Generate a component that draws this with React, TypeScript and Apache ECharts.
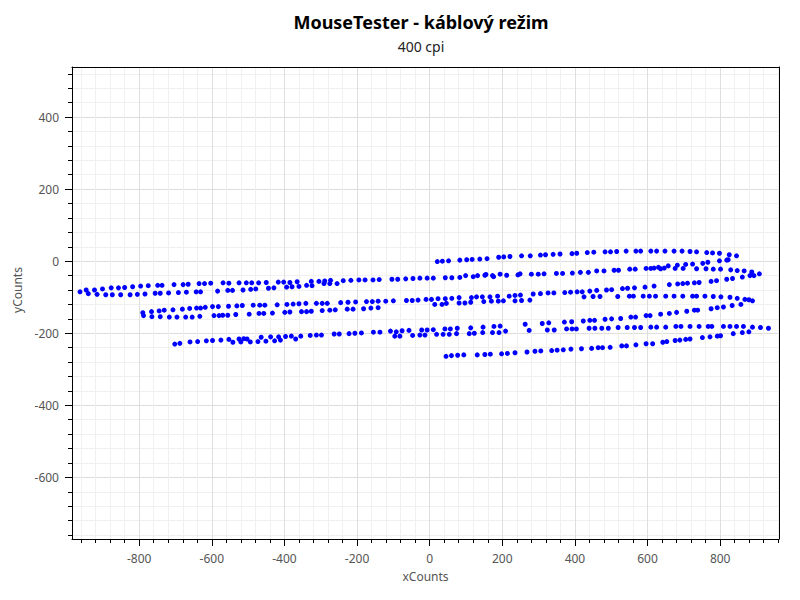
import React, { useEffect, useRef } from "react";
import * as echarts from "echarts";

const chartTitle = "MouseTester - káblový režim";
const chartSubtitle = "400 cpi";
const xName = "xCounts";
const yName = "yCounts";
const xRange: [number, number] = [-985, 962];
const yRange: [number, number] = [-771, 539];
const xMajorTicks = [-800, -600, -400, -200, 0, 200, 400, 600, 800];
const yMajorTicks = [-600, -400, -200, 0, 200, 400];
const minorStep = 40;

// Band A: top-right stroke
const bandA: [number, number][] = [
  [21, -1], [35, 0], [52, 1], [83, 3], [102, 4], [117, 5], [138, 6], [158, 7], [190, 11], [204, 12],
  [221, 13], [253, 15], [277, 15], [305, 17], [319, 18], [340, 19], [359, 20], [392, 21], [405, 22], [434, 24],
  [452, 25], [483, 26], [498, 26], [515, 27], [541, 28], [568, 28], [581, 28], [609, 28], [625, 28], [648, 28],
  [673, 28], [695, 28], [717, 27], [735, 26], [763, 24], [779, 23], [798, 22], [825, 18], [845, 15],
];

// Band B: long stroke from far left to far right
const bandB: [number, number][] = [
  [-946, -80], [-923, -80], [-901, -77], [-877, -74], [-857, -74], [-840, -73], [-818, -71], [-796, -69], [-775, -68], [-749, -67],
  [-737, -67], [-704, -65], [-679, -65], [-665, -64], [-635, -62], [-620, -62], [-603, -61], [-569, -60], [-553, -61], [-525, -60],
  [-963, -85], [-940, -90], [-916, -92], [-892, -93], [-874, -93], [-851, -93], [-825, -93], [-805, -92], [-784, -91], [-756, -89],
  [-742, -89], [-719, -88], [-692, -87], [-670, -86], [-643, -85], [-631, -85], [-584, -83], [-556, -81], [-543, -81],
  [-505, -60], [-490, -60], [-471, -60], [-450, -59], [-417, -58], [-402, -58], [-385, -59], [-365, -57], [-326, -56], [-305, -56],
  [-289, -55], [-273, -53], [-238, -54], [-217, -53], [-195, -52], [-178, -52], [-156, -52], [-139, -51], [-104, -50], [-88, -50],
  [-66, -49], [-46, -48],
  [-514, -80], [-493, -78], [-479, -77], [-444, -75], [-429, -74], [-394, -72], [-379, -71], [-360, -70], [-339, -67], [-324, -68],
  [-291, -62], [-275, -62], [-255, -62],
  [-27, -47], [-7, -47], [10, -47], [43, -46], [61, -46], [83, -45], [99, -40], [120, -43], [132, -40], [152, -39],
  [155, -37], [173, -40], [176, -43], [194, -36], [212, -39], [243, -38], [249, -35], [280, -36], [299, -36], [315, -35],
  [349, -34], [366, -34], [393, -33], [415, -31], [437, -31], [460, -27],
  [480, -27], [508, -25], [520, -25], [551, -22], [566, -22], [596, -20], [609, -20], [618, -19], [630, -17], [636, -21],
  [646, -19], [676, -20], [698, -20], [735, -21], [761, -21], [781, -22], [801, -22], [829, -24], [847, -26], [866, -27],
  [887, -30], [882, -40], [893, -40], [908, -35],
  [657, -13], [682, -11], [705, -9], [724, -8], [752, -6], [766, -3], [798, 1], [818, 3], [822, 4],
];

// Band C: middle stroke
const bandC: [number, number][] = [
  [-790, -143], [-766, -140], [-745, -138], [-731, -136], [-707, -135], [-681, -133], [-661, -131], [-642, -130], [-631, -130], [-618, -128],
  [-598, -126], [-582, -126], [-554, -125], [-531, -124],
  [-788, -151], [-765, -154], [-742, -154], [-717, -155], [-696, -155], [-672, -155], [-654, -155], [-633, -153], [-594, -151], [-580, -151],
  [-570, -150], [-556, -150], [-534, -148],
  [-516, -123], [-486, -122], [-468, -122], [-454, -122], [-420, -121], [-393, -120], [-376, -119], [-360, -118], [-341, -117], [-312, -117],
  [-296, -117], [-282, -117], [-245, -115], [-225, -114], [-204, -113], [-174, -112], [-158, -112], [-142, -111], [-121, -111], [-100, -110],
  [-64, -109], [-48, -109], [-32, -108],
  [-497, -147], [-470, -145], [-457, -145], [-433, -144], [-399, -142], [-385, -141], [-353, -140], [-339, -140], [-326, -139], [-296, -137],
  [-275, -136], [-260, -135], [-227, -133], [-211, -133], [-182, -132], [-162, -130], [-142, -129],
  [-10, -106], [5, -106], [23, -104], [43, -104], [61, -103], [81, -101], [115, -101], [129, -99], [145, -99], [166, -99],
  [187, -97], [219, -97], [235, -95], [250, -94], [285, -91], [305, -90], [326, -88], [342, -88], [372, -87], [388, -86],
  [406, -85], [420, -85], [441, -83], [460, -81],
  [14, -120], [34, -120], [46, -117], [81, -116], [97, -116], [113, -114], [149, -112], [170, -111], [189, -111], [203, -110],
  [235, -110], [253, -109], [276, -108], [425, -99], [450, -98],
  [487, -80], [501, -79], [531, -76], [545, -75], [564, -74], [593, -72], [618, -69], [660, -65], [683, -63], [697, -62],
  [710, -61], [729, -60], [742, -59], [775, -56], [790, -54], [818, -50], [834, -48], [861, -44],
  [469, -98], [518, -98], [550, -97], [561, -97], [588, -97], [605, -97], [622, -97], [650, -97], [673, -97], [697, -97],
  [724, -97], [735, -97], [758, -97], [781, -98], [802, -99], [827, -100], [847, -103], [868, -106], [879, -107], [889, -110],
];

// Band D: lower stroke
const bandD: [number, number][] = [
  [-702, -230], [-688, -228], [-660, -224], [-639, -223], [-615, -221], [-598, -220], [-575, -219], [-553, -217], [-542, -225], [-525, -216],
  [-520, -224],
  [-512, -215], [-503, -216], [-494, -224], [-473, -223], [-464, -211], [-451, -222], [-438, -210], [-427, -221], [-416, -210], [-411, -219],
  [-397, -209], [-381, -208], [-369, -216], [-355, -208], [-329, -206], [-312, -205], [-298, -205], [-263, -202], [-249, -202], [-222, -201],
  [-206, -200], [-188, -199], [-155, -197], [-137, -197], [-108, -194], [-96, -208], [-92, -196], [-82, -208], [-76, -193], [-57, -192],
  [-47, -206],
  [-22, -191], [-7, -191], [10, -190], [42, -188], [57, -188], [76, -186], [113, -185], [147, -183], [177, -181], [194, -180],
  [263, -175], [310, -173], [328, -171], [371, -169], [391, -168], [423, -166], [441, -164], [454, -164],
  [-27, -205], [-13, -205], [19, -203], [37, -203], [54, -203], [74, -201], [109, -201], [123, -200], [146, -198], [173, -198],
  [191, -198], [209, -194], [274, -192], [324, -191], [343, -191], [377, -188], [392, -188], [404, -188], [439, -186], [455, -186],
  [483, -161], [501, -160], [526, -159], [554, -155], [567, -155], [596, -151], [607, -151], [636, -147], [660, -145], [680, -142],
  [708, -139], [729, -136], [738, -136], [775, -132], [792, -129], [809, -127], [833, -123], [857, -120],
  [474, -186], [492, -186], [519, -184], [544, -184], [564, -184], [581, -184], [609, -183], [625, -183], [650, -183], [678, -181],
  [692, -181], [717, -181], [742, -181], [767, -181], [777, -181], [809, -181], [827, -181], [845, -181], [864, -181], [889, -183],
  [911, -184], [933, -186],
];

// Band E: bottom-right stroke
const bandE: [number, number][] = [
  [45, -264], [60, -262], [77, -261], [94, -260], [131, -260], [152, -259], [167, -258], [198, -257], [214, -256], [235, -254],
  [268, -252], [290, -250], [306, -249], [336, -248], [351, -247], [368, -246], [389, -244], [418, -243], [446, -242], [464, -240],
  [476, -240], [497, -239], [529, -235], [542, -235], [568, -232], [596, -229], [614, -229], [642, -225], [653, -223], [676, -220],
  [689, -219], [705, -217], [717, -216], [751, -212], [772, -210], [792, -208], [801, -207], [836, -201], [861, -198], [879, -196],
];

const bands = [bandA, bandB, bandC, bandD, bandE];

function stepTicks(range: [number, number], step: number): number[] {
  const out: number[] = [];
  for (let v = Math.ceil(range[0] / step) * step; v <= range[1]; v += step) out.push(v);
  return out;
}

const FONT = "Noto Sans";
const MINOR_GRID = "#f0f0f0";
const MAJOR_GRID = "#dedede";

export default function App() {
  const ref = useRef<HTMLDivElement>(null);
  useEffect(() => {
    if (!ref.current) return;
    const chart = echarts.init(ref.current, undefined, { renderer: "svg" });
    const xMinor = stepTicks(xRange, minorStep);
    const yMinor = stepTicks(yRange, minorStep);
    const xCycle = xMinor.map((v) => (v % 200 === 0 ? MAJOR_GRID : MINOR_GRID));
    const yCycle = yMinor.map((v) => (v % 200 === 0 ? MAJOR_GRID : MINOR_GRID));
    const labelStyle = { fontFamily: FONT, fontSize: 12, color: "#555" };
    const frameAxis = (position: string, range: [number, number]) => ({
      type: "value",
      min: range[0],
      max: range[1],
      position,
      axisLine: { show: true, onZero: false, lineStyle: { color: "#000", width: 1 } },
      axisTick: { show: false },
      axisLabel: { show: false },
      splitLine: { show: false },
    });
    chart.setOption({
      animation: false,
      backgroundColor: "#ffffff",
      title: {
        text: chartTitle,
        subtext: chartSubtitle,
        left: 421,
        textAlign: "center",
        top: 0,
        padding: [13, 0, 0, 0],
        itemGap: 8,
        textStyle: { fontFamily: FONT, fontSize: 18, fontWeight: "bold", color: "#000" },
        subtextStyle: { fontFamily: FONT, fontSize: 14, color: "#222" },
      },
      grid: {
        left: 72,
        top: 67,
        width: 707,
        height: 472,
        show: false,
        outerBoundsMode: "none",
      },
      xAxis: [
        {
          type: "value",
          min: xRange[0],
          max: xRange[1],
          position: "bottom",
          name: xName,
          nameLocation: "middle",
          nameGap: 31,
          nameTextStyle: labelStyle,
          axisLine: { show: true, onZero: false, lineStyle: { color: "#000", width: 1 } },
          axisTick: { show: true, customValues: xMinor, length: 4, lineStyle: { color: "#000" } },
          axisLabel: { show: true, customValues: xMajorTicks, margin: 13, ...labelStyle },
          splitLine: { show: true, lineStyle: { color: xCycle, width: 1 } },
        },
        {
          type: "value",
          min: xRange[0],
          max: xRange[1],
          position: "bottom",
          axisLine: { show: false, onZero: false },
          axisTick: { show: true, customValues: xMajorTicks, length: 7, lineStyle: { color: "#000" } },
          axisLabel: { show: false },
          splitLine: { show: false },
        },
        frameAxis("top", xRange),
      ],
      yAxis: [
        {
          type: "value",
          min: yRange[0],
          max: yRange[1],
          position: "left",
          name: yName,
          nameLocation: "middle",
          nameGap: 41,
          nameTextStyle: { ...labelStyle, padding: [0, 0, 0, 26] },
          axisLine: { show: true, onZero: false, lineStyle: { color: "#000", width: 1 } },
          axisTick: { show: true, customValues: yMinor, length: 4, lineStyle: { color: "#000" } },
          axisLabel: { show: true, customValues: yMajorTicks, margin: 13, ...labelStyle },
          splitLine: { show: true, lineStyle: { color: yCycle, width: 1 } },
        },
        {
          type: "value",
          min: yRange[0],
          max: yRange[1],
          position: "left",
          axisLine: { show: false, onZero: false },
          axisTick: { show: true, customValues: yMajorTicks, length: 7, lineStyle: { color: "#000" } },
          axisLabel: { show: false },
          splitLine: { show: false },
        },
        frameAxis("right", yRange),
      ],
      series: bands.map((band, i) => ({
        name: "stroke" + (i + 1),
        type: "scatter",
        xAxisIndex: 0,
        yAxisIndex: 0,
        symbol: "circle",
        symbolSize: 5,
        itemStyle: { color: "#0000ff", opacity: 1 },
        data: band,
      })),
    });
    return () => chart.dispose();
  }, []);
  return <div ref={ref} style={{ width: 800, height: 600, margin: -8 }} />;
}
